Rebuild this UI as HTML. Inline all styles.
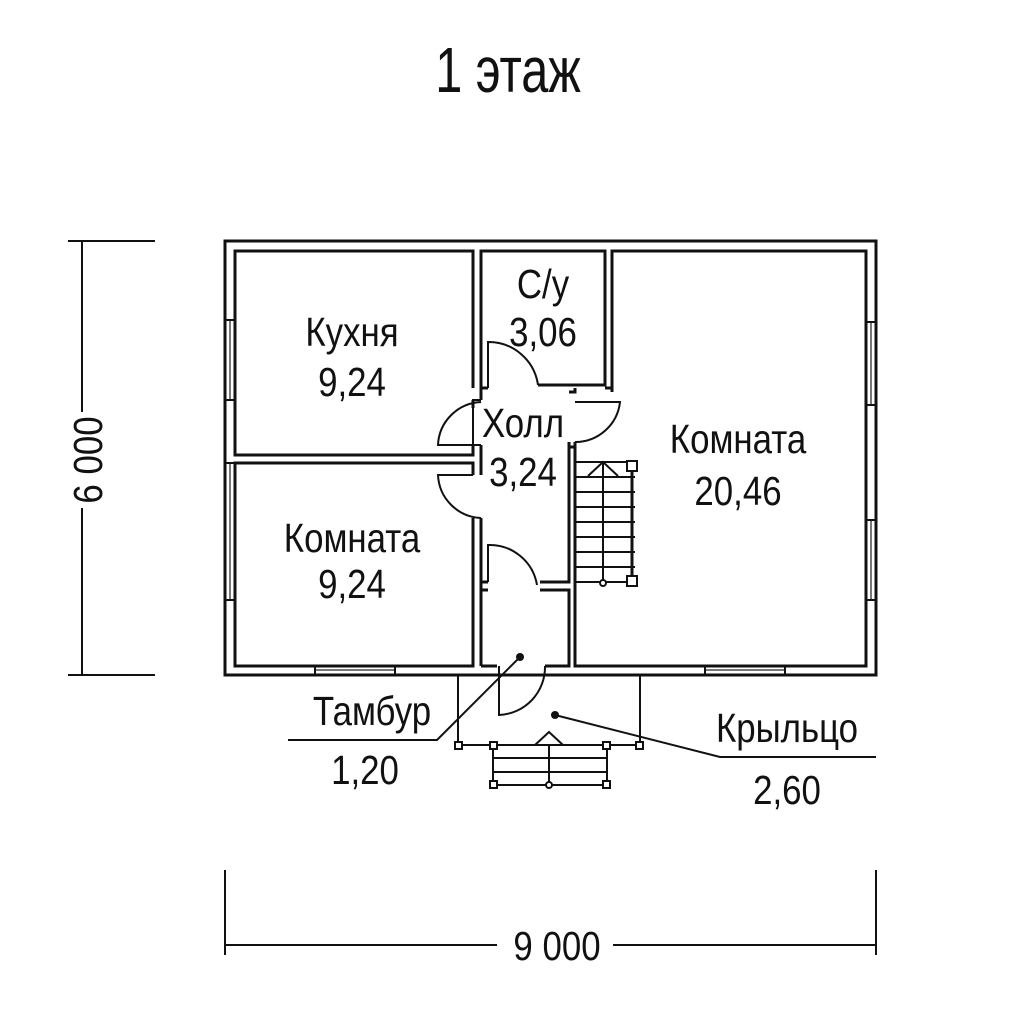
<!DOCTYPE html>
<html><head><meta charset="utf-8"><style>
html,body{margin:0;padding:0;background:#fff;}
svg{display:block;}
text{font-family:"Liberation Sans",sans-serif;fill:#111;}
</style></head><body>
<svg width="1024" height="1024" viewBox="0 0 1024 1024" xmlns="http://www.w3.org/2000/svg">
<rect width="1024" height="1024" fill="#fff"/>
<text transform="translate(508 92) scale(0.76 1)" font-size="64" text-anchor="middle">1 этаж</text>

<g fill="none" stroke="#111" stroke-width="3">
<rect x="225" y="241" width="651" height="434"/>
<path d="M473 388 V251 H235 V455 H473 V445"/>
<path d="M473 408 V400"/>
<path d="M473 475 V463 H235 V666 H473 V518"/>
<path d="M481 400 V388 H488"/>
<path d="M481 445 V475"/>
<path d="M481 518 V666"/>
<path d="M481 388 V251 H605 V385 H538"/>
<path d="M612 388 V251 H866 V666 H575 V447 H569 V582 H540"/>
<path d="M488 582 H481"/>
<path d="M481 590 H488 M540 590 H569 V666 H545 M497 666 H481"/>
<path d="M569 392 H575 V388 M605 388 H612 V392"/>
<path d="M569 447 V442 M575 447 V442"/>
</g>
<g stroke="#777" stroke-width="2" fill="none">
<path d="M230 320 V400 M230 463 V600 M871 322 V405 M871 520 V600 M315 670 H395 M705 670 H785"/>
</g>
<g stroke="#111" stroke-width="2" fill="none">
<path d="M225 320 H235 M225 400 H235 M225 463 H235 M225 600 H235"/>
<path d="M866 322 H876 M866 405 H876 M866 520 H876 M866 600 H876"/>
<path d="M315 666 V675 M395 666 V675 M705 666 V675 M785 666 V675"/>
<path d="M488 388 V342 A50 50 0 0 1 538 385"/>
<path d="M481 400 H473 V445 H481"/>
<path d="M473 445 H438 A45 45 0 0 1 481 402"/>
<path d="M473 475 H438 A45 45 0 0 0 481 518"/>
<path d="M575 442 H575 A45 45 0 0 0 620 402 H575"/>
<path d="M488 582 V545 A48 48 0 0 1 537 585"/>
<path d="M499 666 V715 A48 48 0 0 0 545 666"/>
<path d="M575 462 H635 M575 477 H635 M575 492 H635 M575 507 H635 M575 522 H635 M575 537 H635 M575 552 H635 M575 567 H635 M575 582 H635"/>
<path d="M603 582 V462 M588 476 L603 462 L618 476"/>
<path d="M632 466 V578" stroke-width="3"/>
<rect x="627" y="461" width="10" height="10" fill="#fff"/>
<rect x="627" y="576" width="10" height="10" fill="#fff"/>
<circle cx="603" cy="583" r="3" fill="#fff"/>
<path d="M458 675 V745 M640 675 V745 M458 745 H640 M493 745 V785 M607 745 V785 M493 758 H607 M493 772 H607 M493 785 H607 M549 745 V785 M535 745 L549 732 L563 745"/>
<rect x="455" y="742" width="7" height="7" fill="#fff"/>
<rect x="636" y="742" width="7" height="7" fill="#fff"/>
<rect x="490" y="742" width="7" height="7" fill="#fff"/>
<rect x="603" y="742" width="7" height="7" fill="#fff"/>
<rect x="490" y="781" width="7" height="7" fill="#fff"/>
<rect x="603" y="781" width="7" height="7" fill="#fff"/>
<circle cx="549" cy="785" r="3" fill="#fff"/>
<path d="M520 657 L437 740 H288"/>
<path d="M555 715 L720 757 H876"/>
<path d="M82 241 V675 M68 241 H155 M68 675 H155"/>
<path d="M225 945 H876 M225 870 V955 M876 870 V955"/>
</g>
<rect x="68" y="412" width="30" height="96" fill="#fff"/>
<rect x="497" y="930" width="116" height="30" fill="#fff"/>
<circle cx="520" cy="657" r="4" fill="#111"/>
<circle cx="555" cy="715" r="4" fill="#111"/>

<g font-size="41" text-anchor="middle">
<text transform="translate(352 346) scale(0.85 1)">Кухня</text>
<text transform="translate(352 396) scale(0.85 1)">9,24</text>
<text transform="translate(352 552) scale(0.85 1)">Комната</text>
<text transform="translate(352 598) scale(0.85 1)">9,24</text>
<text transform="translate(543 298) scale(0.85 1)">С/у</text>
<text transform="translate(543 346) scale(0.85 1)">3,06</text>
<text transform="translate(523 437) scale(0.85 1)">Холл</text>
<text transform="translate(523 486) scale(0.85 1)">3,24</text>
<text transform="translate(738 453) scale(0.85 1)">Комната</text>
<text transform="translate(738 505) scale(0.85 1)">20,46</text>
<text transform="translate(372 725) scale(0.85 1)">Тамбур</text>
<text transform="translate(365 784) scale(0.85 1)">1,20</text>
<text transform="translate(787 742) scale(0.85 1)">Крыльцо</text>
<text transform="translate(787 804) scale(0.85 1)">2,60</text>
<text transform="translate(557 960) scale(0.85 1)">9 000</text>
<text transform="translate(102 460) rotate(-90) scale(0.85 1)">6 000</text>
</g>
</svg>
</body></html>
